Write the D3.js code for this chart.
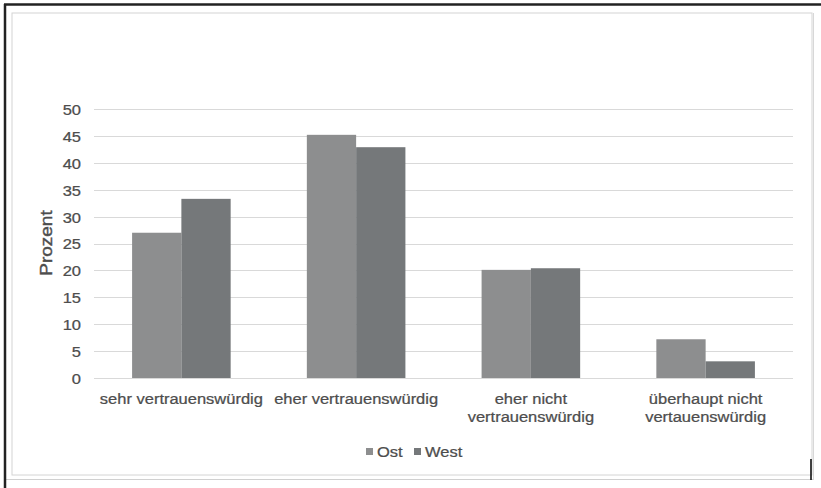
<!DOCTYPE html>
<html>
<head>
<meta charset="utf-8">
<script src="https://cdn.jsdelivr.net/npm/d3@7"></script>
<style>
  html, body { margin: 0; padding: 0; background: #fff; }
  svg { display: block; }
  text { font-family: "Liberation Sans", Arial, sans-serif; fill: #4d4d4d; stroke: #4d4d4d; stroke-width: 0.25px; }
</style>
</head>
<body>
<svg id="chart" width="821" height="488"></svg>
<script>
// Vertrauenswürdigkeit, Ost vs. West (Prozent)
const categories = [
  ["sehr vertrauenswürdig"],
  ["eher vertrauenswürdig"],
  ["eher nicht", "vertrauenswürdig"],
  ["überhaupt nicht", "vertauenswürdig"]
];
const seriesNames = ["Ost", "West"];
const ostValues = [27.0, 45.2, 20.1, 7.2];
const westValues = [33.3, 42.9, 20.4, 3.1];
const yTicks = [0, 5, 10, 15, 20, 25, 30, 35, 40, 45, 50];
const seriesColors = ["#8d8e8f", "#75787a"];

const svg = d3.select("#chart");
const stretch = 1.1; // text is drawn slightly wide

// frame
svg.append("rect").attr("x", 12).attr("y", 13).attr("width", 800).attr("height", 462)
  .attr("fill", "none").attr("stroke", "#d4d4d4").attr("stroke-width", 1);
svg.append("line").attr("x1", 6).attr("x2", 813).attr("y1", 479.5).attr("y2", 479.5)
  .attr("stroke", "#d0d0d0");
svg.append("line").attr("x1", 813.5).attr("x2", 813.5).attr("y1", 13).attr("y2", 480)
  .attr("stroke", "#d8d8d8");
svg.append("line").attr("x1", 4).attr("x2", 821).attr("y1", 4.5).attr("y2", 4.5)
  .attr("stroke", "#222").attr("stroke-width", 2.5);
svg.append("line").attr("x1", 5).attr("x2", 5).attr("y1", 4).attr("y2", 488)
  .attr("stroke", "#222").attr("stroke-width", 2.5);
svg.append("line").attr("x1", 811).attr("x2", 811).attr("y1", 459).attr("y2", 480)
  .attr("stroke", "#111").attr("stroke-width", 1.6);

const x = d3.scaleBand().domain(d3.range(categories.length)).range([94, 793]).padding(0);
const y = d3.scaleLinear().domain([0, 50]).range([378, 109]);
const barW = x.bandwidth() * 0.282;

// gridlines
svg.append("g").selectAll("line").data(yTicks).join("line")
  .attr("x1", 94).attr("x2", 793)
  .attr("y1", d => Math.round(y(d)) + 0.5).attr("y2", d => Math.round(y(d)) + 0.5)
  .attr("stroke", "#d9d9d9").attr("stroke-width", 1.2);

// y axis labels
const yAxis = svg.append("g").attr("transform", "translate(94,0)")
  .call(d3.axisLeft(y).tickValues(yTicks).tickSize(0).tickPadding(0));
yAxis.select(".domain").remove();
yAxis.selectAll("text")
  .attr("x", 0).attr("dy", "0.36em")
  .attr("transform", `translate(-13,0) scale(${stretch},1)`)
  .attr("font-size", 15).style("font-family", "Liberation Sans, Arial, sans-serif")
  .attr("fill", "#4d4d4d");

// axis title
svg.append("text")
  .attr("transform", `translate(52,243) rotate(-90) scale(1.15,1)`)
  .attr("text-anchor", "middle").attr("font-size", 16.5)
  .style("stroke-width", "0.4px").text("Prozent");

// bars
const series = [ostValues, westValues];
series.forEach((vals, si) => {
  svg.append("g").selectAll("rect").data(vals).join("rect")
    .attr("x", (d, i) => x(i) + x.bandwidth() / 2 - barW + si * barW)
    .attr("width", barW)
    .attr("y", d => y(d))
    .attr("height", d => y(0) - y(d))
    .attr("fill", seriesColors[si]);
});

// category labels
const catG = svg.append("g").selectAll("g").data(categories).join("g")
  .attr("transform", (d, i) => `translate(${x(i) + x.bandwidth() / 2},404) scale(${stretch},1)`);
catG.each(function(lines) {
  d3.select(this).selectAll("text").data(lines).join("text")
    .attr("text-anchor", "middle")
    .attr("y", (d, j) => j * 18)
    .attr("font-size", 15)
    .text(d => d);
});

// legend
const legendItems = [{ name: seriesNames[0], x: 366 }, { name: seriesNames[1], x: 414 }];
const lg = svg.append("g").selectAll("g").data(legendItems).join("g")
  .attr("transform", d => `translate(${d.x},448)`);
lg.append("rect").attr("width", 7).attr("height", 7)
  .attr("fill", (d, i) => seriesColors[i]);
lg.append("text").attr("x", 10).attr("y", 9)
  .attr("transform", `scale(${stretch},1)`)
  .attr("font-size", 15).text(d => d.name);
</script>
</body>
</html>
